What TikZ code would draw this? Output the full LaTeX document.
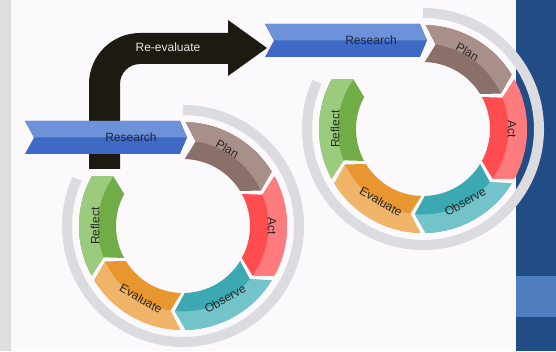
\documentclass[tikz,border=0pt]{standalone}
\usepackage{fontspec}
\setmainfont{Liberation Sans}

\definecolor{paper}{HTML}{FBF9FB}
\definecolor{sidegray}{HTML}{DEDEDE}
\definecolor{panelblue}{HTML}{214C85}
\definecolor{panellight}{HTML}{4F7FC1}
\definecolor{ringgray}{HTML}{DCDBDF}
\definecolor{arrowblack}{HTML}{1D1A12}
\definecolor{navy}{HTML}{1B2340}
\definecolor{resdk}{HTML}{3E6AC5}
\definecolor{reslt}{HTML}{6D92D9}
\definecolor{plandk}{HTML}{8B6F69}
\definecolor{planlt}{HTML}{A88F8A}
\definecolor{actdk}{HTML}{FF4D4F}
\definecolor{actlt}{HTML}{FF7B7E}
\definecolor{obsdk}{HTML}{3CA9B2}
\definecolor{obslt}{HTML}{72C3CA}
\definecolor{evadk}{HTML}{E8962F}
\definecolor{evalt}{HTML}{F0B468}
\definecolor{refdk}{HTML}{70AD47}
\definecolor{reflt}{HTML}{9BCB7C}

\newcommand\ringin{67}
\newcommand\ringout{104}
\newcommand\ringmid{85.5}

\begin{document}
\begin{tikzpicture}[x=1pt, y=1pt,
	txt/.style = {font=\fontsize{12}{14}\selectfont, inner sep=0pt, text=black!85},
	ring/.style = {draw=ringgray, line width=10pt}]
\useasboundingbox (0,0) rectangle (556,351);
% page and side panel
\fill[paper] (0,0) rectangle (556,351);
\fill[sidegray] (0,0) rectangle (11,351);
\fill[panelblue] (516,0) rectangle (556,351);
\fill[panellight] (516,34) rectangle (556,75);

% bent arrow from the first cycle to the second
\fill[arrowblack] (89,182) -- (89,267) arc[start angle=180, end angle=90, radius=51]
	-- (228,318) -- (228,331) -- (267,303) -- (228,275) -- (228,287) -- (140,287)
	arc[start angle=90, end angle=180, radius=20] -- (120,182) -- cycle;
\node[txt, text=white!90!black] (reeval) at (168,304) {Re-evaluate};

\foreach \c/\cx/\cy in {1/183/125, 2/423/222} {
\begin{scope}[shift={(\cx,\cy)}]
	\draw[ring] (90:116) arc[start angle=90, end angle=-204, radius=116];
	\foreach \m/\dk/\lt/\lbl/\rot/\rad in {60/plandk/planlt/Plan/-30/89,
			0/actdk/actlt/Act/-90/89, -60/obsdk/obslt/Observe/30/84,
			-120/evadk/evalt/Evaluate/-30/84, -180/refdk/reflt/Reflect/90/88} {
		\pgfmathsetmacro\angA{\m+28.5}
		\pgfmathsetmacro\angB{\m-28.5}
		\pgfmathsetmacro\tipA{\angA-7}
		\pgfmathsetmacro\tipB{\angB-7}
		\fill[\dk] (\angA:\ringout) arc[start angle=\angA, end angle=\angB, radius=\ringout]
			-- (\tipB:\ringmid) -- (\angB:\ringin) arc[start angle=\angB, end angle=\angA, radius=\ringin]
			-- (\tipA:\ringmid) -- cycle;
		\fill[\lt] (\angA:\ringout) arc[start angle=\angA, end angle=\angB, radius=\ringout]
			-- (\tipB:\ringmid) arc[start angle=\tipB, end angle=\tipA, radius=\ringmid] -- cycle;
		\node[txt, rotate=\rot] (\lbl-\c) at (\m:\rad) {\lbl};
	}
	% research step leading into Plan
	\fill[resdk] (-158,105) -- (-3,105) -- (4,88.5) -- (-3,72) -- (-158,72) -- (-149,88.5) -- cycle;
	\fill[reslt] (-158,105) -- (-3,105) -- (4,88.5) -- (-149,88.5) -- cycle;
	\node[txt, text=navy] (research-\c) at (-52,88.5) {Research};
\end{scope}
}
\end{tikzpicture}
\end{document}
